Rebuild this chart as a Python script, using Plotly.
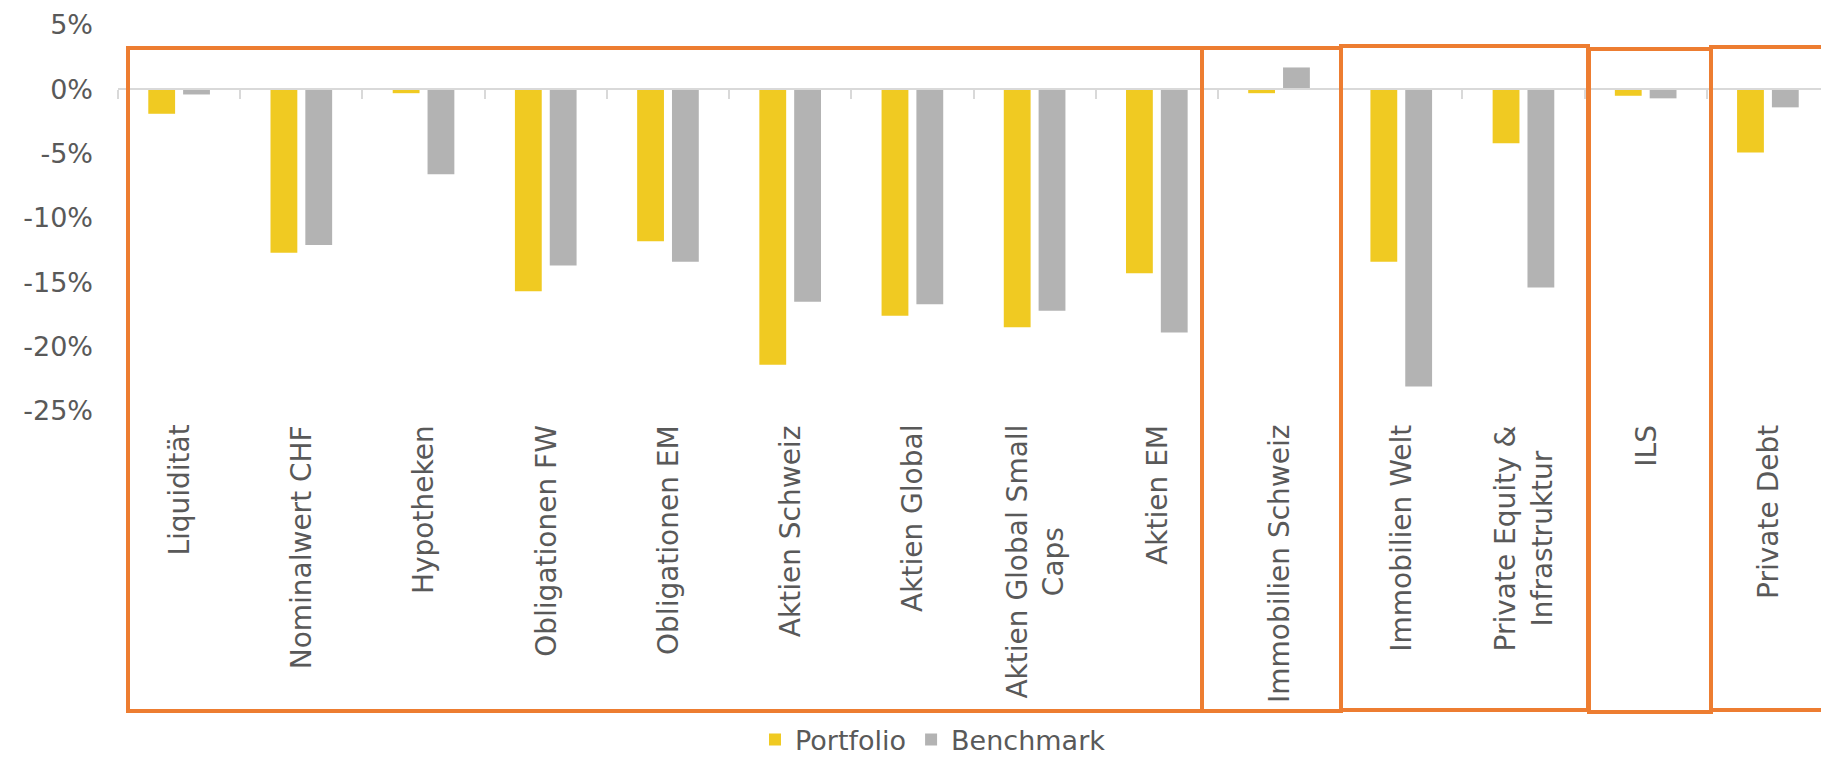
import plotly.graph_objects as go

categories = ["Liquidität", "Nominalwert CHF", "Hypotheken", "Obligationen FW",
              "Obligationen EM", "Aktien Schweiz", "Aktien Global",
              "Aktien Global Small<br>Caps", "Aktien EM", "Immobilien Schweiz",
              "Immobilien Welt", "Private Equity &<br>Infrastruktur", "ILS", "Private Debt"]
portfolio = [-1.9, -12.7, -0.3, -15.7, -11.8, -21.4, -17.6, -18.5, -14.3, -0.3, -13.4, -4.2, -0.5, -4.9]
benchmark = [-0.4, -12.1, -6.6, -13.7, -13.4, -16.5, -16.7, -17.2, -18.9, 1.7, -23.1, -15.4, -0.7, -1.4]
y_tickvals = [-25, -20, -15, -10, -5, 0, 5]
y_ticktext = ["-25%", "-20%", "-15%", "-10%", "-5%", "0%", "5%"]

# page body has an 8px margin: figure is drawn from (8, 8) in the window
OFF = 8
W, H = 1829 - OFF, 757 - OFF
# screen-space plot area: x 118..1829, y 25..411
SL, SR, ST, SB = 118, 1829, 25, 411
ML, MT = SL - OFF, ST - OFF
MR = W - (SR - OFF)
MB = H - (SB - OFF)
PW, PH = SR - SL, SB - ST
FONT = "DejaVu Sans"
TXT = "#595959"
ORANGE = "#ED7D31"

def px(x):
    return (x - SL) / PW

def py(y):
    return (SB - y) / PH

fig = go.Figure()
fig.add_trace(go.Bar(name="Portfolio", x=categories, y=portfolio,
                     marker=dict(color="#F0CA22", line=dict(width=0))))
fig.add_trace(go.Bar(name="Benchmark", x=categories, y=benchmark,
                     marker=dict(color="#B3B3B3", line=dict(width=0))))

annotations = []
for c in categories:
    annotations.append(dict(x=c, xref="x", y=py(423), yref="paper", yanchor="top",
                            xanchor="center", text=c, textangle=-90, showarrow=False,
                            align="center", font=dict(family=FONT, size=28, color=TXT)))

boxes = [(128, 1202, 48, 711), (1202, 1341, 48, 711), (1341, 1588, 46, 710),
         (1589, 1711, 49, 712), (1711, 1845, 47, 710)]
shapes = []
for (x0, x1, y0, y1) in boxes:
    shapes.append(dict(type="rect", xref="paper", yref="paper",
                       x0=px(x0), x1=px(x1), y0=py(y1), y1=py(y0),
                       line=dict(color=ORANGE, width=4), fillcolor="rgba(0,0,0,0)",
                       layer="above"))

fig.update_layout(
    width=W, height=H,
    margin=dict(l=ML, r=MR, t=MT, b=MB, pad=0),
    paper_bgcolor="white", plot_bgcolor="white",
    barmode="group", bargap=0.43, bargroupgap=0.23,
    font=dict(family=FONT, size=27, color=TXT),
    showlegend=True,
    legend=dict(orientation="h", xref="container", yref="container",
                x=(933 - OFF) / W, y=1 - (740 - OFF) / H, xanchor="center", yanchor="middle",
                font=dict(family=FONT, size=27, color=TXT), traceorder="normal",
                borderwidth=0, itemwidth=30),
    annotations=annotations,
    shapes=shapes,
    xaxis=dict(type="category", range=[-0.5, 13.5], showticklabels=False,
               showgrid=False, zeroline=False, showline=True, linecolor="#D9D9D9",
               linewidth=2, ticks="outside", tickson="boundaries", ticklen=9,
               tickwidth=2, tickcolor="#D9D9D9", anchor="free", position=25/30),
    yaxis=dict(range=[-25, 5], tickvals=y_tickvals, ticktext=y_ticktext,
               showgrid=False, zeroline=False, showline=False, ticks="",
               ticklabelstandoff=24,
               tickfont=dict(family=FONT, size=27, color=TXT)),
)

fig.write_html("out.html")
